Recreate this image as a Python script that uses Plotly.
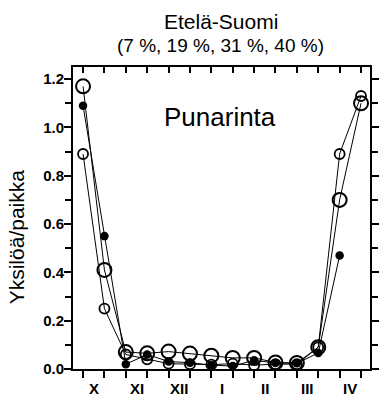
import plotly.graph_objects as go

# ---- data ----
positions = list(range(14))               # half-month sampling points
month_labels = ["X", "XI", "XII", "I", "II", "III", "IV"]
month_centers = [0.5, 2.5, 4.5, 6.5, 8.5, 10.5, 12.5]
y_tickvals = [0.0, 0.2, 0.4, 0.6, 0.8, 1.0, 1.2]
y_ticktext = ["0.0", "0.2", "0.4", "0.6", "0.8", "1.0", "1.2"]

big_open = [1.17, 0.41, 0.07, 0.065, 0.072, 0.064, 0.055, 0.046, 0.046, 0.027, 0.025, 0.09, 0.70, 1.10]
small_open = [0.89, 0.25, 0.06, 0.04, 0.022, 0.02, 0.018, 0.022, 0.016, 0.02, 0.02, 0.09, 0.89, 1.13]
filled = [1.09, 0.55, 0.02, 0.06, 0.031, 0.026, 0.016, 0.012, 0.036, 0.025, 0.024, 0.066, 0.47]

title_main = "Etelä-Suomi"
title_sub = "(7 %, 19 %, 31 %, 40 %)"
species = "Punarinta"
y_title = "Yksilöä/paikka"

FONT = "Liberation Sans, Arial, Helvetica, sans-serif"

fig = go.Figure()
fig.add_trace(go.Scatter(
    x=positions, y=big_open, mode="lines+markers", cliponaxis=False,
    line=dict(color="black", width=1),
    marker=dict(symbol="circle-open", size=14, color="black", line=dict(width=2)),
    showlegend=False))
fig.add_trace(go.Scatter(
    x=positions, y=small_open, mode="lines+markers", cliponaxis=False,
    line=dict(color="black", width=1),
    marker=dict(symbol="circle-open", size=10, color="black", line=dict(width=1.8)),
    showlegend=False))
fig.add_trace(go.Scatter(
    x=positions[:len(filled)], y=filled, mode="lines+markers", cliponaxis=False,
    line=dict(color="black", width=1),
    marker=dict(symbol="circle", size=8.5, color="black"),
    showlegend=False))
# invisible trace to activate the top axis
fig.add_trace(go.Scatter(x=[positions[0]], y=[0], xaxis="x2", mode="markers",
                         marker=dict(opacity=0), showlegend=False, hoverinfo="skip"))

xr = [-0.47, 13.42]
fig.update_layout(
    width=382, height=396,
    margin=dict(l=73, r=3, t=67, b=27),
    paper_bgcolor="white", plot_bgcolor="white",
    font=dict(family=FONT, color="black"),
    xaxis=dict(range=xr, tickvals=positions, showticklabels=False,
               ticks="outside", ticklen=7, tickwidth=1.5, tickcolor="black",
               showline=True, linecolor="black", linewidth=2, mirror=True,
               showgrid=False, zeroline=False),
    xaxis2=dict(range=xr, overlaying="x", side="top", anchor="y",
                tickvals=positions, showticklabels=False,
                ticks="inside", ticklen=6, tickwidth=1.5, tickcolor="black",
                showline=False, showgrid=False, zeroline=False),
    yaxis=dict(range=[0, 1.25], tickvals=y_tickvals, ticktext=y_ticktext,
               ticks="outside", ticklen=7, tickwidth=1.5, tickcolor="black",
               ticklabelstandoff=-3,
               tickfont=dict(family=FONT, size=15, color="black", weight="bold"),
               minor=dict(dtick=0.1, tick0=0, ticks="outside", ticklen=6,
                          tickwidth=1.5, tickcolor="black", showgrid=False),
               showline=True, linecolor="black", linewidth=2, mirror="ticks",
               showgrid=False, zeroline=False),
)

annotations = []
for lbl, c in zip(month_labels, month_centers):
    annotations.append(dict(x=c, y=-0.065, xref="x", yref="paper", text=lbl,
                            showarrow=False, xanchor="center", yanchor="middle",
                            font=dict(family=FONT, size=15, color="black", weight="bold")))
# title lines: centres at about 21 px and 45 px from the top
annotations.append(dict(x=0.497, y=1.151, xref="paper", yref="paper", text=title_main,
                        showarrow=False, xanchor="center", yanchor="middle",
                        font=dict(family=FONT, size=21, color="black")))
annotations.append(dict(x=0.497, y=1.071, xref="paper", yref="paper", text=title_sub,
                        showarrow=False, xanchor="center", yanchor="middle",
                        font=dict(family=FONT, size=19, color="black")))
annotations.append(dict(x=0.301, y=0.834, xref="paper", yref="paper", text=species,
                        showarrow=False, xanchor="left", yanchor="middle",
                        font=dict(family=FONT, size=26, color="black")))
annotations.append(dict(x=-0.191, y=0.437, xref="paper", yref="paper", text=y_title,
                        showarrow=False, xanchor="center", yanchor="middle", textangle=-90,
                        font=dict(family=FONT, size=21, color="black")))
fig.update_layout(annotations=annotations)

fig.write_html("out.html")
